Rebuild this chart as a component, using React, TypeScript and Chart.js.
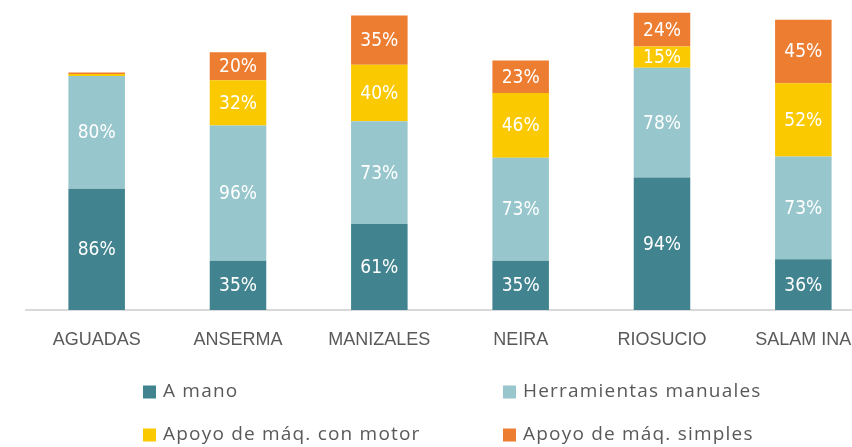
import React, { useEffect, useRef } from "react";
import { Chart, registerables } from "chart.js";

Chart.register(...registerables);

const categories = ["AGUADAS", "ANSERMA", "MANIZALES", "NEIRA", "RIOSUCIO", "SALAMINA"];
const categoryLabels = ["AGUADAS", "ANSERMA", "MANIZALES", "NEIRA", "RIOSUCIO", "SALAM INA"];
const aMano = [86, 35, 61, 35, 94, 36];
const herramientasManuales = [80, 96, 73, 73, 78, 73];
const apoyoMotor = [1.5, 32, 40, 46, 15, 52];
const apoyoSimples = [1, 20, 35, 23, 24, 45];
const seriesNames = ["A mano", "Herramientas manuales", "Apoyo de máq. con motor", "Apoyo de máq. simples"];
const seriesColors = ["#41838F", "#97C6CC", "#FBC900", "#ED7D31"];

const CANVAS_W = 880;
const CANVAS_H = 447;

const dataLabelPlugin = {
  id: "dataLabels",
  afterDatasetsDraw(chart: any) {
    const ctx = chart.ctx;
    ctx.save();
    ctx.fillStyle = "#ffffff";
    ctx.font = "19px 'DejaVu Sans Condensed', 'Liberation Sans Narrow', sans-serif";
    ctx.textAlign = "center";
    ctx.textBaseline = "middle";
    chart.data.datasets.forEach((ds: any, di: number) => {
      const meta = chart.getDatasetMeta(di);
      meta.data.forEach((el: any, i: number) => {
        const v = ds.data[i];
        if (v < 5) return;
        const y = (el.y + el.base) / 2;
        ctx.fillText(Math.round(v) + "%", el.x, y + 1);
      });
    });
    ctx.restore();
  },
};

const legendPlugin = {
  id: "customLegend",
  afterDraw(chart: any) {
    const ctx = chart.ctx;
    const cols = [143, 503];
    const rows = [392, 435];
    ctx.save();
    ctx.font = "19px 'Open Sans', 'Liberation Sans', sans-serif";
    (ctx as any).letterSpacing = "1.2px";
    ctx.textBaseline = "middle";
    ctx.textAlign = "left";
    chart.data.datasets.forEach((ds: any, i: number) => {
      const x = cols[i % 2];
      const y = rows[Math.floor(i / 2)];
      ctx.fillStyle = ds.backgroundColor;
      ctx.fillRect(x, y - 6.5, 13, 13);
      ctx.fillStyle = "#595959";
      ctx.fillText(ds.label, x + 20, y);
    });
    (ctx as any).letterSpacing = "0px";
    ctx.restore();
  },
};

export default function App() {
  const ref = useRef<HTMLCanvasElement>(null);
  useEffect(() => {
    if (!ref.current) return;
    const values = [aMano, herramientasManuales, apoyoMotor, apoyoSimples];
    const chart = new Chart(ref.current, {
      type: "bar",
      data: {
        labels: categoryLabels,
        datasets: values.map((d, i) => ({
          label: seriesNames[i],
          data: d,
          backgroundColor: seriesColors[i],
          borderWidth: 0,
          categoryPercentage: 1,
          barPercentage: 0.4,
        })),
      },
      options: {
        responsive: false,
        animation: false,
        maintainAspectRatio: false,
        layout: { padding: { left: 26, right: CANVAS_W - 874, top: 0, bottom: 0 } },
        plugins: {
          legend: { display: false },
          tooltip: { enabled: false },
        },
        scales: {
          x: {
            stacked: true,
            grid: { display: false },
            border: { display: true, color: "#D9D9D9", width: 2 },
            ticks: {
              color: "#595959",
              padding: 11,
              maxRotation: 0,
              autoSkip: false,
              font: { size: 18, family: "'Liberation Sans', sans-serif" },
            },
            afterFit: (scale: any) => {
              scale.height = CANVAS_H - 310;
            },
          },
          y: {
            stacked: true,
            display: false,
            min: 0,
            max: 220,
          },
        },
      },
      plugins: [dataLabelPlugin, legendPlugin],
    });
    return () => chart.destroy();
  }, []);
  return (
    <div
      style={{
        position: "fixed",
        left: 0,
        top: 0,
        width: 852,
        height: 447,
        overflow: "hidden",
        background: "#ffffff",
      }}
    >
      <canvas ref={ref} width={CANVAS_W} height={CANVAS_H} style={{ width: CANVAS_W, height: CANVAS_H, display: "block" }} />
    </div>
  );
}
